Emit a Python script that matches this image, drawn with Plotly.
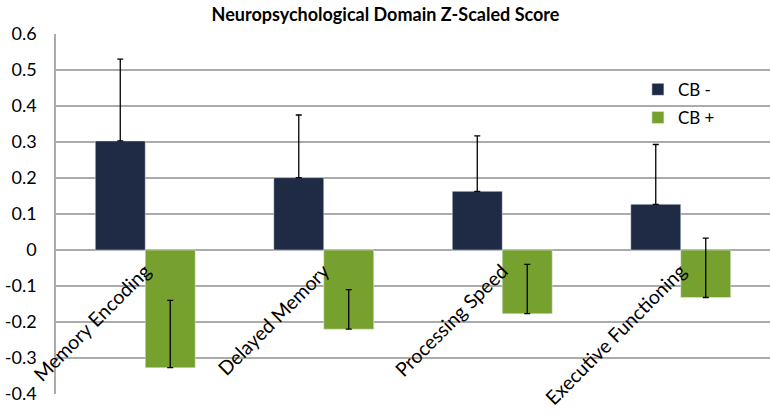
import plotly.graph_objects as go

categories = ["Memory Encoding", "Delayed Memory", "Processing Speed", "Executive Functioning"]
cb_minus = [0.303, 0.201, 0.163, 0.127]
cb_minus_err = [0.227, 0.174, 0.154, 0.166]
cb_plus = [-0.327, -0.220, -0.177, -0.132]
cb_plus_err = [0.187, 0.110, 0.137, 0.165]
ytick_vals = [0.6, 0.5, 0.4, 0.3, 0.2, 0.1, 0, -0.1, -0.2, -0.3, -0.4]
ytick_text = ["0.6", "0.5", "0.4", "0.3", "0.2", "0.1", "0", "-0.1", "-0.2", "-0.3", "-0.4"]

FONT = "Lato"

fig = go.Figure()
fig.add_trace(go.Bar(
    name="CB -", x=categories, y=cb_minus, marker_color="#1F2B45",
    legendgroup="a",
    error_y=dict(type="data", symmetric=False, array=cb_minus_err,
                 arrayminus=[0] * 4, color="#000000", thickness=1.3, width=3),
))
fig.add_trace(go.Bar(
    name="CB +", x=categories, y=cb_plus, marker_color="#76A12F",
    legendgroup="b",
    error_y=dict(type="data", symmetric=False, array=cb_plus_err,
                 arrayminus=[0] * 4, color="#000000", thickness=1.3, width=3),
))

fig.update_layout(
    width=771, height=414,
    margin=dict(l=56, r=1, t=34, b=20),
    paper_bgcolor="white", plot_bgcolor="white",
    barmode="group", bargap=0.44, bargroupgap=0,
    font=dict(family=FONT, color="#000000", size=17),
    title=dict(text="<b>Neuropsychological Domain Z-Scaled Score</b>",
               x=0.5, xanchor="center", y=0.965, yanchor="middle",
               automargin=False,
               font=dict(family=FONT, size=18, color="#000000")),
    showlegend=True,
    legend=dict(x=0.815, y=0.895, xanchor="left", yanchor="top",
                bgcolor="rgba(0,0,0,0)", tracegroupgap=3,
                font=dict(family=FONT, size=17)),
    xaxis=dict(anchor="free", position=0.4, tickangle=-45, automargin=False,
               showline=False, showgrid=False, ticks="", ticklabelstandoff=5,
               tickfont=dict(family=FONT, size=19.5)),
    yaxis=dict(range=[-0.4, 0.6], tickvals=ytick_vals, ticktext=ytick_text,
               automargin=False, ticklabelstandoff=14,
               showgrid=True, gridcolor="#ABABAB", gridwidth=1.5,
               zeroline=False, showline=True, linecolor="#ABABAB", linewidth=1.5,
               ticks="", tickfont=dict(family=FONT, size=18)),
)

fig.write_html("out.html", config={"displayModeBar": False},
               post_script="document.body.style.margin='0px';")
